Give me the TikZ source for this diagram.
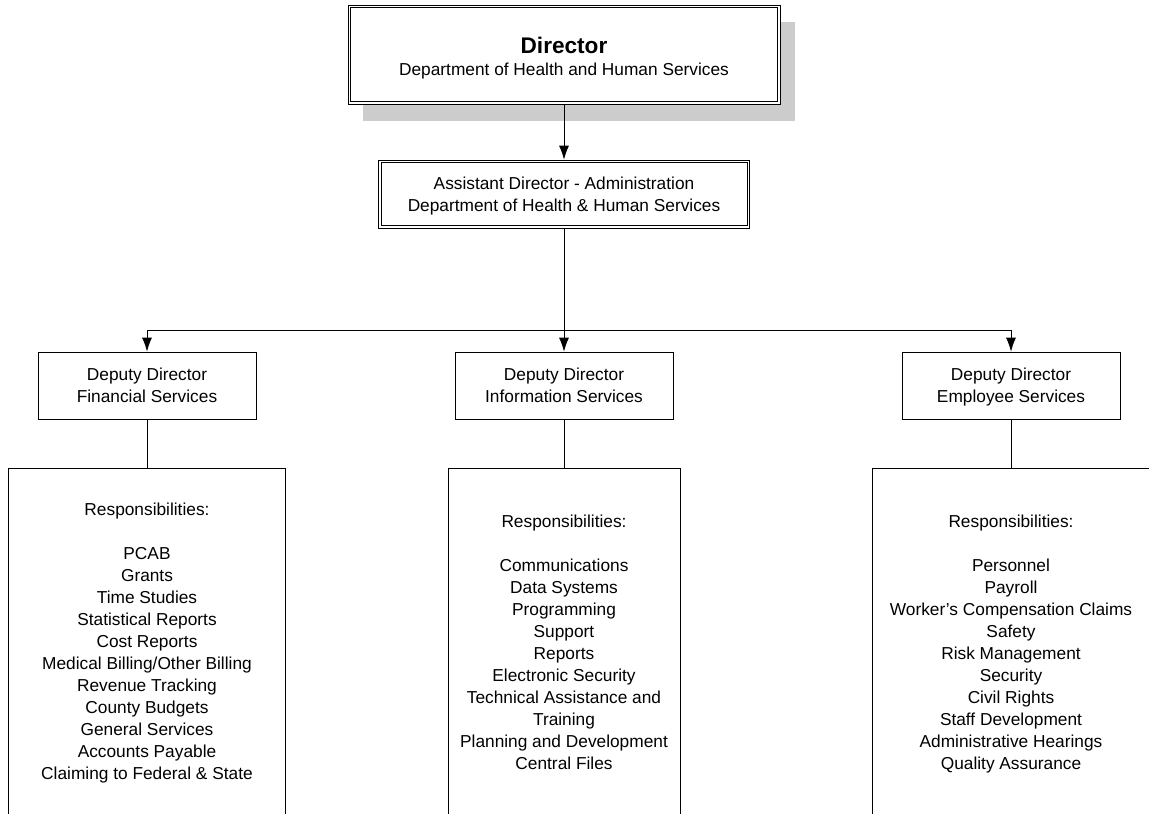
\documentclass[tikz,border=0pt]{standalone}
\usepackage{fontspec}
\setmainfont{Liberation Sans}
\usetikzlibrary{arrows.meta,shadows}

\tikzset{
  box/.style={draw, line width=0.8pt, fill=white, align=center, inner sep=0pt,
    text depth=0pt, font=\fontsize{17.3}{22}\selectfont},
  arr/.style={line width=0.8pt, -{Latex[length=14pt,width=10pt]}},
  link/.style={line width=0.8pt}
}
\newcommand{\innerframe}[1]{%
  \draw[line width=0.8pt] ([shift={(3,-3)}]#1.north west) rectangle ([shift={(-3,3)}]#1.south east);}

\begin{document}
\begin{tikzpicture}[x=1pt, y=1pt]
\clip (0,0) rectangle (1149,-814);

% top of the chart
\node[box, minimum width=432, minimum height=99,
  general shadow={fill=black!20, shadow xshift=15pt, shadow yshift=-17pt}]
  (director) at (564,-54.5)
  {\rule{0pt}{20pt}{\fontsize{22.6}{24}\selectfont\bfseries Director}\\Department of Health and Human Services};
\innerframe{director}
\node[box, minimum width=371, minimum height=68] (asstdir) at (564,-194)
  {Assistant Director - Administration\\Department of Health \& Human Services};
\innerframe{asstdir}

% deputies
\node[box, minimum width=218, minimum height=67] (depfin) at (147,-385.5)
  {Deputy Director\\Financial Services};
\node[box, minimum width=218, minimum height=67] (depinfo) at (564,-385.5)
  {Deputy Director\\Information Services};
\node[box, minimum width=218, minimum height=67] (depemp) at (1011,-385.5)
  {Deputy Director\\Employee Services};

% responsibilities
\node[box, minimum width=277, minimum height=346] (respfin) at (147,-641)
  {Responsibilities:\\[22pt]PCAB\\Grants\\Time Studies\\Statistical Reports\\Cost Reports\\
   Medical Billing/Other Billing\\Revenue Tracking\\County Budgets\\General Services\\
   Accounts Payable\\Claiming to Federal \& State};
\node[box, minimum width=232, minimum height=348] (respinfo) at (564,-642)
  {Responsibilities:\\[22pt]Communications\\Data Systems\\Programming\\Support\\Reports\\
   Electronic Security\\Technical Assistance and\\Training\\Planning and Development\\
   Central Files};
\node[box, minimum width=277, minimum height=348] (respemp) at (1011,-642)
  {Responsibilities:\\[22pt]Personnel\\Payroll\\Worker’s Compensation Claims\\Safety\\
   Risk Management\\Security\\Civil Rights\\Staff Development\\Administrative Hearings\\
   Quality Assurance};

% connectors
\coordinate (bus) at (564,-330);
\draw[arr] (director.south) -- (asstdir.north);
\draw[arr] (asstdir.south) -- (depinfo.north);
\draw[arr] (bus) -| (depfin.north);
\draw[arr] (bus) -| (depemp.north);
\draw[link] (depfin.south) -- (respfin.north);
\draw[link] (depinfo.south) -- (respinfo.north);
\draw[link] (depemp.south) -- (respemp.north);

\end{tikzpicture}
\end{document}
